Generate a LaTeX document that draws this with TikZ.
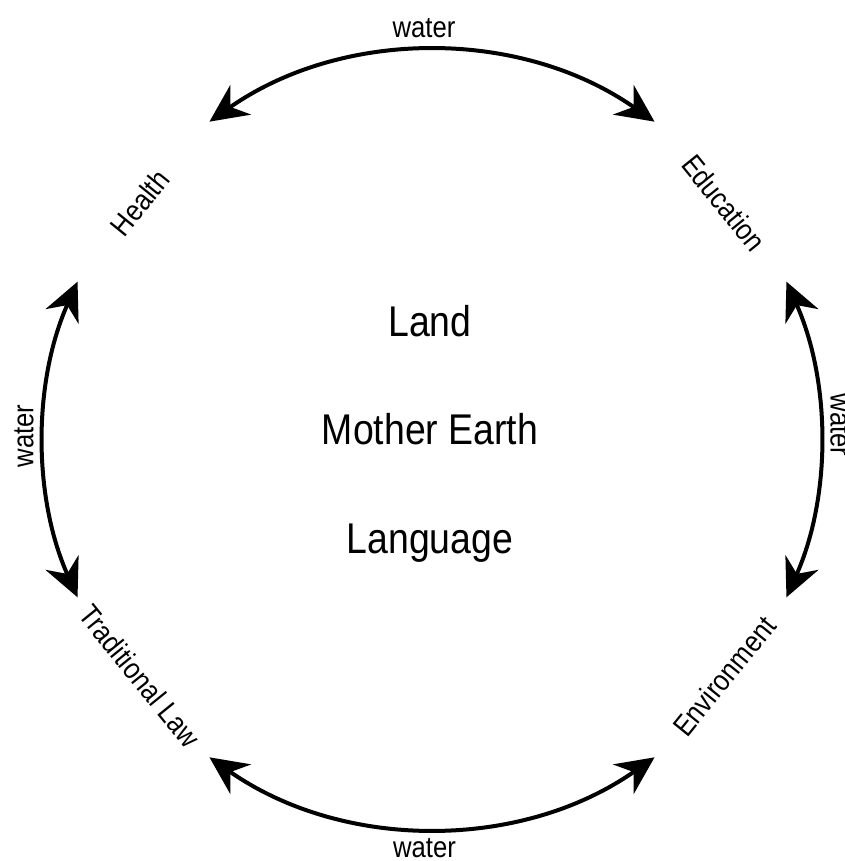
\documentclass[tikz,border=0pt]{standalone}
\usepackage{fontspec}
\usepackage{graphicx}
\setmainfont{Liberation Sans}
\usetikzlibrary{arrows.meta}
\newcommand{\narrow}[1]{\scalebox{0.87}[1]{#1}}

\begin{document}
\begin{tikzpicture}[x=1pt, y=1pt,
    link/.style={line width=4pt, {Stealth[length=38pt, width=36pt]}-{Stealth[length=38pt, width=36pt]}},
    core/.style={font=\fontsize{43}{50}\selectfont, anchor=base},
    realm/.style={font=\fontsize{29.5}{35}\selectfont, inner sep=0pt},
    flow/.style={font=\fontsize{29.5}{35}\selectfont, inner sep=0pt}]
  \useasboundingbox (-432,-421.5) rectangle (412,439.5);
  % centre
  \node[core] (land) at (-2,102.5) {\narrow{Land}};
  \node[core] (earth) at (-2,-5.5) {\narrow{Mother Earth}};
  \node[core] (lang) at (-2,-113.5) {\narrow{Language}};
  % the four around the circle
  \node[realm, rotate=51] (health) at (141:376) {\narrow{Health}};
  \node[realm, rotate=-51] (edu) at (39:376) {\narrow{Education}};
  \node[realm, rotate=-51] (law) at (219:376) {\narrow{Traditional Law}};
  \node[realm, rotate=51] (env) at (-39:376) {\narrow{Environment}};
  % arc ends
  \coordinate (t1) at (55:388);  \coordinate (t2) at (125:388);
  \coordinate (l1) at (156:388); \coordinate (l2) at (204:388);
  \coordinate (b1) at (235:388); \coordinate (b2) at (305:388);
  \coordinate (r1) at (-24:388); \coordinate (r2) at (24:388);
  % water arcs
  \draw[link] (t1) arc[start angle=55, end angle=125, radius=388];
  \draw[link] (l1) arc[start angle=156, end angle=204, radius=388];
  \draw[link] (b1) arc[start angle=235, end angle=305, radius=388];
  \draw[link] (r1) arc[start angle=-24, end angle=24, radius=388];
  \node[flow] (wtop) at (-8,411) {\narrow{water}};
  \node[flow, rotate=90] (wleft) at (-408,3.5) {\narrow{water}};
  \node[flow] (wbot) at (-7.5,-408.5) {\narrow{water}};
  \node[flow, rotate=-90] (wright) at (408,14.5) {\narrow{water}};
\end{tikzpicture}
\end{document}
